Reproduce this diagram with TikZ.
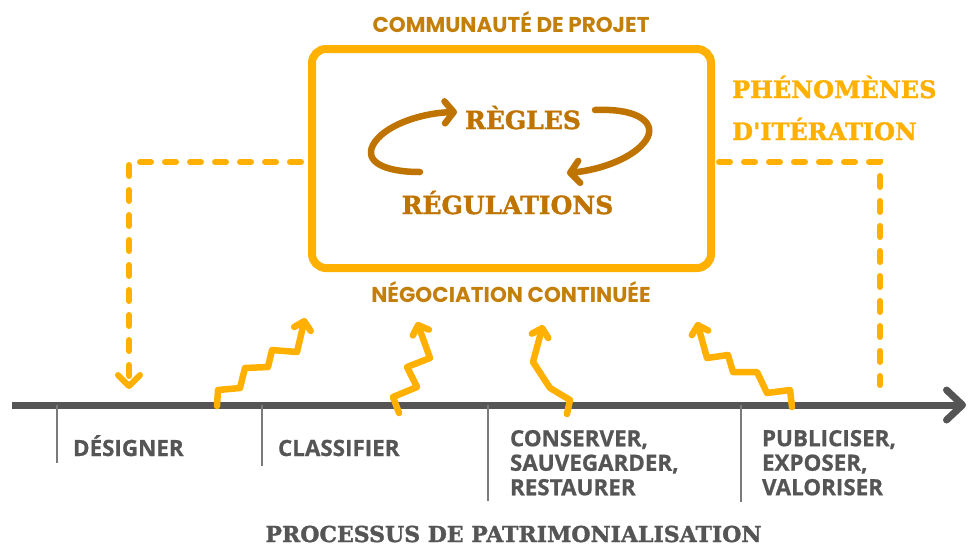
\documentclass[tikz,border=0pt]{standalone}
\usepackage{fontspec}
\setmainfont{DejaVu Serif}[BoldFeatures={FakeBold=1.6}]
\newfontfamily\osans{Open Sans}[BoldFeatures={FakeBold=0.8}]
\newfontfamily\pop{Poppins}
\usetikzlibrary{arrows.meta}
\definecolor{amber}{HTML}{FFB000}
\definecolor{ochre}{HTML}{BF7300}
\definecolor{ochrelight}{HTML}{C47F0A}
\definecolor{axisgray}{HTML}{555555}
\definecolor{tickgray}{HTML}{7A7A7A}
\definecolor{textgray}{HTML}{555555}
\begin{document}
\begin{tikzpicture}[x=1pt,y=-1pt,
  framebox/.style={draw=amber,line width=8pt,rounded corners=14pt,inner sep=0pt,outer sep=0pt,minimum width=399pt,minimum height=219pt},
  dashline/.style={draw=amber,line width=6pt,line cap=round,dash pattern=on 11pt off 14pt},
  zig/.style={draw=amber,line width=6.5pt,line cap=round,line join=round,-{Straight Barb[length=8pt,width=17pt,line cap=round,line join=round]}},
  swirl/.style={draw=ochre,line width=6.5pt,line cap=round,-{Straight Barb[length=9pt,width=22pt,line cap=round,line join=round]}},
  axisline/.style={draw=axisgray,line width=7pt,-{Straight Barb[length=16pt,width=30pt,line cap=round,line join=round]}},
  tickline/.style={draw=tickgray,line width=1.6pt},
  stage/.style={font=\osans\bfseries\fontsize{22.4pt}{24.5pt}\selectfont,text=textgray,inner sep=0pt,outer sep=0pt,align=left},
  toptitle/.style={font=\pop\bfseries\fontsize{21.5pt}{24pt}\selectfont,text=ochrelight,inner sep=0pt},
  bigword/.style={font=\bfseries\fontsize{25pt}{30pt}\selectfont,text=ochre,inner sep=0pt},
  iterword/.style={font=\bfseries\fontsize{24pt}{42pt}\selectfont,text=amber,inner sep=0pt,align=left},
  bottomtitle/.style={font=\bfseries\fontsize{22pt}{26pt}\selectfont,text=textgray,inner sep=0pt}
]
\useasboundingbox (0,0) rectangle (968,547);

% central frame
\node[framebox] (box) at (511.5,158.5) {};
\node[toptitle,anchor=base] (comm) at (511,32) {COMMUNAUTÉ DE PROJET};
\node[toptitle,anchor=base] (nego) at (511,302) {NÉGOCIATION CONTINUÉE};
\node[bigword,anchor=base] (regles) at (523,129) {RÈGLES};
\node[bigword,anchor=base] (regul) at (507.5,214) {RÉGULATIONS};

% circular arrows
\draw[swirl] (420,172) .. controls (385,172) and (364,162) .. (373,145) .. controls (383,126) and (420,113) .. (457,112);
\draw[swirl] (595,110) .. controls (640,108) and (657,124) .. (646,140) .. controls (634,158) and (600,170) .. (567,173);

% iteration label
\node[iterword,anchor=base west] (phen) at (732,98) {PHÉNOMÈNES};
\node[iterword,anchor=base west] (iter) at (732,140) {\addfontfeatures{Ligatures=TeXOff}D'ITÉRATION};

% dashed iteration connectors
\coordinate (dl) at (129,389);
\coordinate (dr) at (880,385);
\draw[dashline,-{Straight Barb[length=11pt,width=22pt,line cap=round,line join=round]}] ([xshift=-11pt,yshift=-3.5pt]box.west) -| (dl);
\draw[dashline] ([xshift=8pt,yshift=-3.5pt]box.east) -| (dr);

% axis
\coordinate (a0) at (12,405);
\coordinate (a1) at (966,405);
\draw[axisline] (a0) -- (a1);
\draw[tickline] (57,405) -- (57,463);
\draw[tickline] (262,405) -- (262,466);
\draw[tickline] (488,405) -- (488,501);
\draw[tickline] (741,405) -- (741,502);

% stages
\node[stage,anchor=base west] (des) at (73,456) {DÉSIGNER};
\node[stage,anchor=base west] (cla) at (278,456) {CLASSIFIER};
\node[stage,anchor=north west] (con) at (510,430) {CONSERVER,\\SAUVEGARDER,\\RESTAURER};
\node[stage,anchor=north west] (pub) at (762,430) {PUBLICISER,\\EXPOSER,\\VALORISER};

\node[bottomtitle,anchor=base] (proc) at (513.5,542) {PROCESSUS DE PATRIMONIALISATION};

% zigzag negotiation arrows
\draw[zig] (217,406) -- (218,390) -- (240,388) -- (245,368) -- (268,367) -- (272,350) -- (297,352) -- (305,318);
\draw[zig] (399,413) -- (393,397) -- (417,387) -- (407,367) -- (430,358) -- (417,322);
\draw[zig] (567,414) -- (570,400) -- (550,388) -- (533,362) -- (543,325);
\draw[zig] (792,407) -- (790,390) -- (767,393) -- (757,372) -- (733,372) -- (728,355) -- (707,358) -- (697,322);
\end{tikzpicture}
\end{document}
